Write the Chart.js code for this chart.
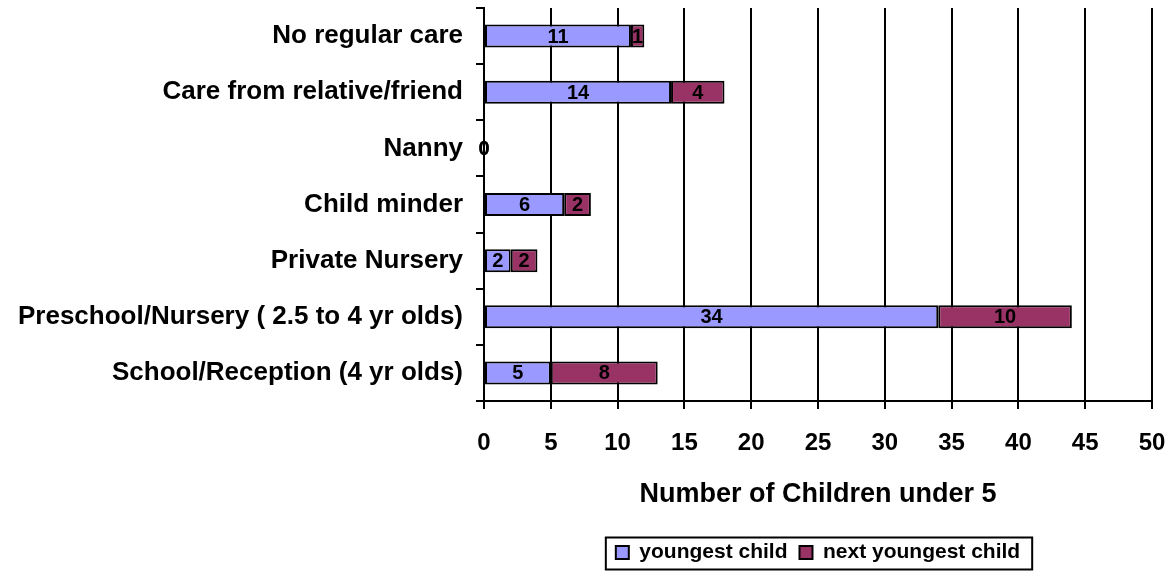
<!DOCTYPE html>
<html>
<head>
<meta charset="utf-8">
<script src="https://cdn.jsdelivr.net/npm/chart.js@4/dist/chart.umd.min.js"></script>
<style>
  html, body { margin: 0; padding: 0; background: #fff; }
  #wrap { width: 1176px; height: 573px; }
</style>
</head>
<body>
<div id="wrap"><canvas id="chart" width="1176" height="573"></canvas></div>
<script>
const categories = [
  'No regular care',
  'Care from relative/friend',
  'Nanny',
  'Child minder',
  'Private Nursery',
  'Preschool/Nursery ( 2.5 to 4 yr olds)',
  'School/Reception (4 yr olds)'
]
const youngestChild = [11, 14, 0, 6, 2, 34, 5]
const nextYoungestChild = [1, 4, 0, 2, 2, 10, 8]
const xTicks = [0, 5, 10, 15, 20, 25, 30, 35, 40, 45, 50]

const FONT = '"Liberation Sans", Arial, sans-serif'

// numbers in the middle of each bar segment
const barLabels = {
  id: 'barLabels',
  afterDatasetsDraw(chart) {
    const ctx = chart.ctx
    ctx.save()
    ctx.font = 'bold 20px ' + FONT
    ctx.fillStyle = '#000'
    ctx.textAlign = 'center'
    ctx.textBaseline = 'middle'
    chart.data.datasets.forEach((ds, i) => {
      const meta = chart.getDatasetMeta(i)
      meta.data.forEach((bar, j) => {
        const v = ds.data[j]
        ctx.fillText(String(v), (bar.x + bar.base) / 2, bar.y + 1)
      })
    })
    ctx.restore()
  }
}

// frame around the legend
const legendFrame = {
  id: 'legendFrame',
  afterDraw(chart) {
    const boxes = chart.legend && chart.legend.legendHitBoxes
    if (!boxes || !boxes.length) return
    const left = Math.min(...boxes.map(b => b.left)) - 10
    const right = Math.max(...boxes.map(b => b.left + b.width)) + 12
    const mid = boxes[0].top + boxes[0].height / 2 + 1
    const ctx = chart.ctx
    ctx.save()
    ctx.strokeStyle = '#000'
    ctx.lineWidth = 2
    ctx.strokeRect(left, mid - 16, right - left, 32)
    ctx.restore()
  }
}

new Chart(document.getElementById('chart'), {
  type: 'bar',
  data: {
    labels: categories,
    datasets: [
      {
        label: 'youngest child',
        data: youngestChild,
        backgroundColor: '#9999FF',
        borderColor: '#000',
        borderWidth: 2,
        borderSkipped: false
      },
      {
        label: 'next youngest child',
        data: nextYoungestChild,
        backgroundColor: '#993366',
        borderColor: '#000',
        borderWidth: 2,
        borderSkipped: false
      }
    ]
  },
  options: {
    indexAxis: 'y',
    responsive: false,
    animation: false,
    categoryPercentage: 1,
    barPercentage: 0.41,
    layout: { padding: { top: 8, right: 24, bottom: 0, left: 0 } },
    scales: {
      x: {
        stacked: true,
        min: 0,
        max: 50,
        afterBuildTicks(scale) {
          scale.ticks = xTicks.map(v => ({ value: v }))
        },
        afterFit(scale) {
          scale.height = 129
          scale.paddingLeft = 0
          scale.paddingRight = 0
        },
        grid: { color: '#000', lineWidth: 2, tickLength: 8, drawOnChartArea: true },
        border: { color: '#000', width: 2 },
        ticks: {
          color: '#000',
          padding: 20,
          maxRotation: 0,
          font: { family: FONT, size: 24, weight: 'bold' }
        },
        title: {
          display: true,
          text: 'Number of Children under 5',
          color: '#000',
          font: { family: FONT, size: 27, weight: 'bold' },
          padding: { top: 0, bottom: 19 }
        }
      },
      y: {
        stacked: true,
        afterFit(scale) {
          scale.width = 484
          scale.paddingTop = 0
          scale.paddingBottom = 0
        },
        grid: { color: '#000', lineWidth: 2, tickLength: 8, drawOnChartArea: false, offset: true },
        border: { color: '#000', width: 2 },
        ticks: {
          color: '#000',
          padding: 13,
          font: { family: FONT, size: 26, weight: 'bold' }
        }
      }
    },
    plugins: {
      legend: {
        position: 'bottom',
        fullSize: false,
        labels: {
          color: '#000',
          boxWidth: 13,
          boxHeight: 13,
          padding: 12,
          font: { family: FONT, size: 21, weight: 'bold' }
        }
      },
      tooltip: { enabled: false }
    }
  },
  plugins: [barLabels, legendFrame]
})
</script>
</body>
</html>
